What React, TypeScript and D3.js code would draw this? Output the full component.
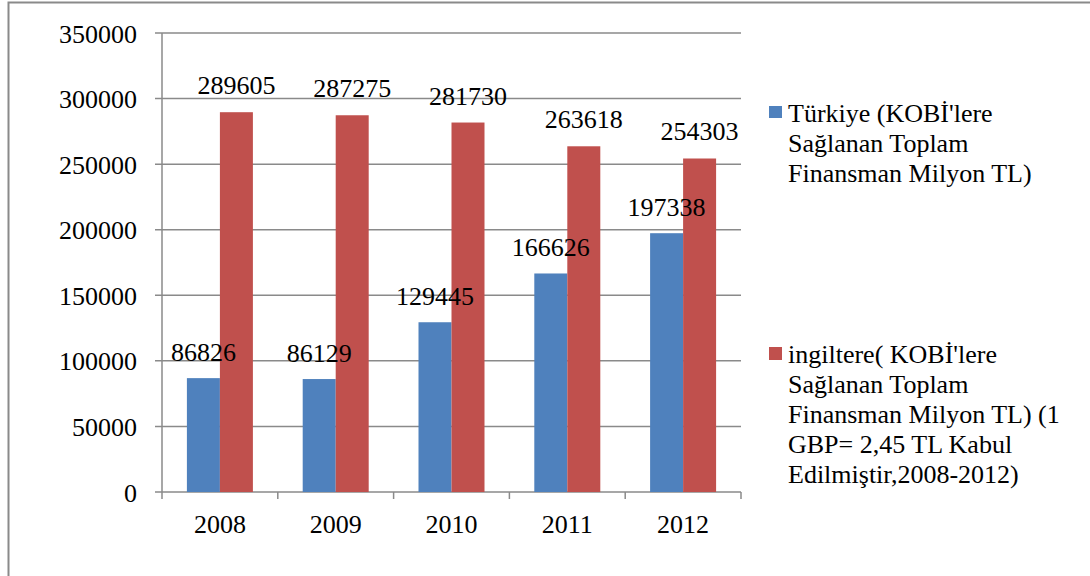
import React from "react";
import * as d3 from "d3";

const categories = ["2008", "2009", "2010", "2011", "2012"];
const turkiye = [86826, 86129, 129445, 166626, 197338];
const ingiltere = [289605, 287275, 281730, 263618, 254303];
const yTicks = [0, 50000, 100000, 150000, 200000, 250000, 300000, 350000];
const legendTurkiye = ["Türkiye (KOBİ'lere", "Sağlanan Toplam", "Finansman Milyon TL)"];
const legendIngiltere = [
  "ingiltere( KOBİ'lere",
  "Sağlanan Toplam",
  "Finansman Milyon TL) (1",
  "GBP= 2,45 TL Kabul",
  "Edilmiştir,2008-2012)",
];

const BLUE = "#4F81BD";
const RED = "#C0504D";
const GRID = "#8a8a8a";
const FONT = "Liberation Serif, Tinos, Times New Roman, Times, DejaVu Serif, serif";

export default function App() {
  const W = 1090;
  const H = 576;
  const left = 162;
  const right = 741;
  const top = 33;
  const bottom = 492;

  const x = d3.scaleBand<string>().domain(categories).range([left, right]).paddingInner(0).paddingOuter(0);
  const y = d3.scaleLinear().domain([0, 350000]).range([bottom, top]);
  const groupW = 66;
  const barW = groupW / 2;
  const bx = (c: string) => (x(c) as number) + x.bandwidth() / 2 - groupW / 2;

  const series = [
    { name: "t", values: turkiye, color: BLUE, offset: 0, dy: 17.5 },
    { name: "i", values: ingiltere, color: RED, offset: barW, dy: 18 },
  ];

  const boundaries = categories.map((c) => x(c) as number).concat([right]);
  const ts: React.CSSProperties = { fontFamily: FONT, fontSize: 26 };

  return (
    <svg
      width={W}
      height={H}
      style={{ position: "fixed", left: 0, top: 0, background: "#fff", overflow: "hidden", fontFamily: FONT }}
    >
      <rect x={0} y={0} width={W} height={H} fill="#fff" />
      <rect x={8.5} y={2.5} width={1200} height={700} fill="none" stroke={GRID} strokeWidth={2} />

      {yTicks.map((t) => (
        <line key={"g" + t} x1={left - 7} x2={right} y1={y(t)} y2={y(t)} stroke={GRID} strokeWidth={1.5} />
      ))}
      <line x1={left} x2={left} y1={top} y2={bottom} stroke={GRID} strokeWidth={1.5} />
      {boundaries.map((b, i) => (
        <line key={"xt" + i} x1={b} x2={b} y1={bottom} y2={bottom + 7} stroke={GRID} strokeWidth={1.5} />
      ))}

      {series.map((s) =>
        categories.map((c, i) => (
          <rect
            key={s.name + c}
            x={bx(c) + s.offset}
            y={y(s.values[i])}
            width={barW}
            height={bottom - y(s.values[i])}
            fill={s.color}
          />
        ))
      )}

      {yTicks.map((t) => (
        <text key={"yl" + t} x={137} y={y(t) + 9.5} textAnchor="end" style={ts} fill="#000">
          {t}
        </text>
      ))}

      {categories.map((c) => (
        <text
          key={"xl" + c}
          x={(x(c) as number) + x.bandwidth() / 2}
          y={533}
          textAnchor="middle"
          style={ts}
          fill="#000"
        >
          {c}
        </text>
      ))}

      {series.map((s) =>
        categories.map((c, i) => (
          <text
            key={"dl" + s.name + c}
            x={bx(c) + s.offset + barW / 2}
            y={y(s.values[i]) - s.dy}
            textAnchor="middle"
            style={ts}
            fill="#000"
          >
            {s.values[i]}
          </text>
        ))
      )}

      <rect x={769} y={106} width={13} height={12} fill={BLUE} />
      {legendTurkiye.map((l, i) => (
        <text key={"lt" + i} x={788} y={121.7 + i * 30} style={ts} fill="#000">
          {l}
        </text>
      ))}
      <rect x={769} y={347} width={13} height={13} fill={RED} />
      {legendIngiltere.map((l, i) => (
        <text key={"li" + i} x={788} y={363.3 + i * 30} style={ts} fill="#000">
          {l}
        </text>
      ))}
    </svg>
  );
}
